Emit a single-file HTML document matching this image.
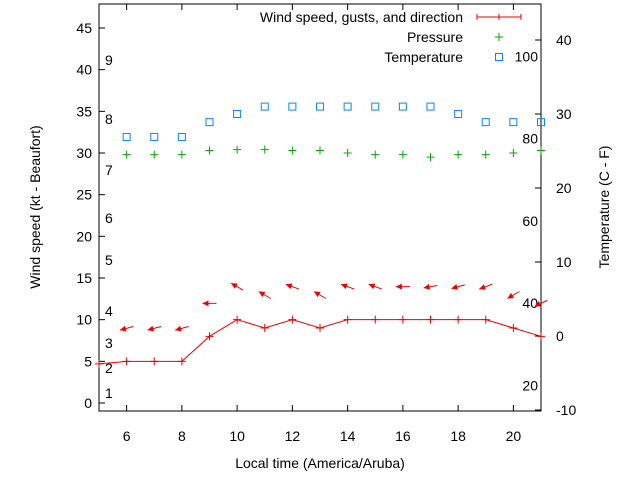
<!DOCTYPE html>
<html><head><meta charset="utf-8"><style>
body{margin:0;background:#fff}
svg{font-family:"Liberation Sans",Arial,sans-serif;font-size:14px}
</style></head><body>
<svg id="c" width="640" height="480"></svg>
<script>
const hours=[5,6,7,8,9,10,11,12,13,14,15,16,17,18,19,20,21];
const windSpeed=[4.7,5,5,5,8,10,9,10,9,10,10,10,10,10,10,9,8];
const windDir=[null,75,75,75,90,120,120,110,120,110,110,90,80,75,70,60,65];
const tempHours=[6,7,8,9,10,11,12,13,14,15,16,17,18,19,20,21];
const tempC=[26.9,26.9,26.9,28.9,30,31,31,31,31,31,31,31,30,28.9,28.9,28.9];
const pressure=[29.8,29.8,29.8,30.3,30.4,30.4,30.3,30.3,30,29.8,29.8,29.5,29.8,29.8,30,30.3];
const leftTicks=[0,5,10,15,20,25,30,35,40,45];
const rightTicks=[-10,0,10,20,30,40];
const xTicks=[6,8,10,12,14,16,18,20];
const beaufort=[[1,393],[2,368],[3,343],[4,311],[5,260],[6,218],[7,170],[8,119],[9,60]];
const fahr=[20,40,60,80,100];

const L=99,R=541,T=4,B=411;
const X=h=>L+(h-5)*(R-L)/16;
const Y=v=>403-v*375/45;
const Y2=c=>336-c*7.4;
const svg=document.getElementById('c');
const NS='http://www.w3.org/2000/svg';
function mk(t,a,p){const e=document.createElementNS(NS,t);for(const k in a)e.setAttribute(k,a[k]);(p||svg).appendChild(e);return e;}
function txt(x,y,s,anchor){const e=mk('text',{x:x,y:y,'text-anchor':anchor||'start',fill:'#000'});e.textContent=s;return e;}

let fr=mk('rect',{x:L,y:T,width:R-L,height:B-T,fill:'none',stroke:'#000','stroke-width':1});

leftTicks.forEach(v=>{const y=Y(v);mk('line',{x1:L,y1:y,x2:L+6,y2:y,stroke:'#000'});
 const t=txt(92,y+5,String(v),'end');});
rightTicks.forEach(v=>{const y=Y2(v);mk('line',{x1:R-6,y1:y,x2:R,y2:y,stroke:'#000'});
 const t=txt(556,y+5,String(v));});
xTicks.forEach(v=>{const x=X(v);mk('line',{x1:x,y1:B,x2:x,y2:B-6,stroke:'#000'});mk('line',{x1:x,y1:T,x2:x,y2:T+6,stroke:'#000'});
 const t=txt(x,441,String(v),'middle');});
beaufort.forEach(b=>{const t=txt(105,b[1]+5,String(b[0]));});
fahr.forEach(f=>{const c=(f-32)*5/9;const t=txt(538,Y2(c)+5,String(f),'end');});

let xt=txt(320,468,'Local time (America/Aruba)','middle');
let yl=txt(0,0,'Wind speed (kt - Beaufort)','middle');yl.setAttribute('transform','translate(40,207) rotate(-90)');

let yr=txt(0,0,'Temperature (C - F)','middle');yr.setAttribute('transform','translate(609,207) rotate(-90)');


let pts=hours.map((h,i)=>X(h)+','+Y(windSpeed[i])).join(' ');
let wl=mk('polyline',{points:pts,fill:'none',stroke:'#e00','stroke-width':1});

hours.forEach((h,i)=>{const x=X(h),y=Y(windSpeed[i]);
 const m=mk('path',{d:`M${x-4},${y}h8M${x},${y-4}v8`,stroke:'#e00'});
 
 if(windDir[i]!=null){const a=windDir[i]*Math.PI/180;const cx=x,cy=y-33;
  const dx=Math.sin(a),dy=-Math.cos(a);
  const hx=cx-dx*7,hy=cy-dy*7,tx=cx+dx*7,ty=cy+dy*7;
  const g=mk('g',{});
  mk('line',{x1:tx,y1:ty,x2:hx,y2:hy,stroke:'#e00','stroke-width':1},g);
  const px=-dy,py=dx;
  mk('polygon',{points:`${hx},${hy} ${hx+dx*6+px*3},${hy+dy*6+py*3} ${hx+dx*6-px*3},${hy+dy*6-py*3}`,fill:'#e00'},g);}
});
tempHours.forEach((h,i)=>{const x=X(h),y=Y(pressure[i]);
 const m=mk('path',{d:`M${x-4},${y}h8M${x},${y-4}v8`,stroke:'#0a0'});
 });
tempHours.forEach((h,i)=>{const x=X(h),y=Y2(tempC[i]);
 const m=mk('rect',{x:x-3.5,y:y-3.5,width:7,height:7,fill:'none',stroke:'#08f'});
 });
const lg=mk('g',{});
[['Wind speed, gusts, and direction',22],['Pressure',42],['Temperature',62]].forEach(e=>{const t=mk('text',{x:463,y:e[1],'text-anchor':'end'},lg);t.textContent=e[0];});
mk('path',{d:'M477,17h44M477,14v6M521,14v6M499,14v6',stroke:'#e00'},lg);
mk('path',{d:'M495,37h8M499,33v8',stroke:'#0a0'},lg);
mk('rect',{x:495.5,y:53.5,width:7,height:7,fill:'none',stroke:'#08f'},lg);
</script>
</body></html>
